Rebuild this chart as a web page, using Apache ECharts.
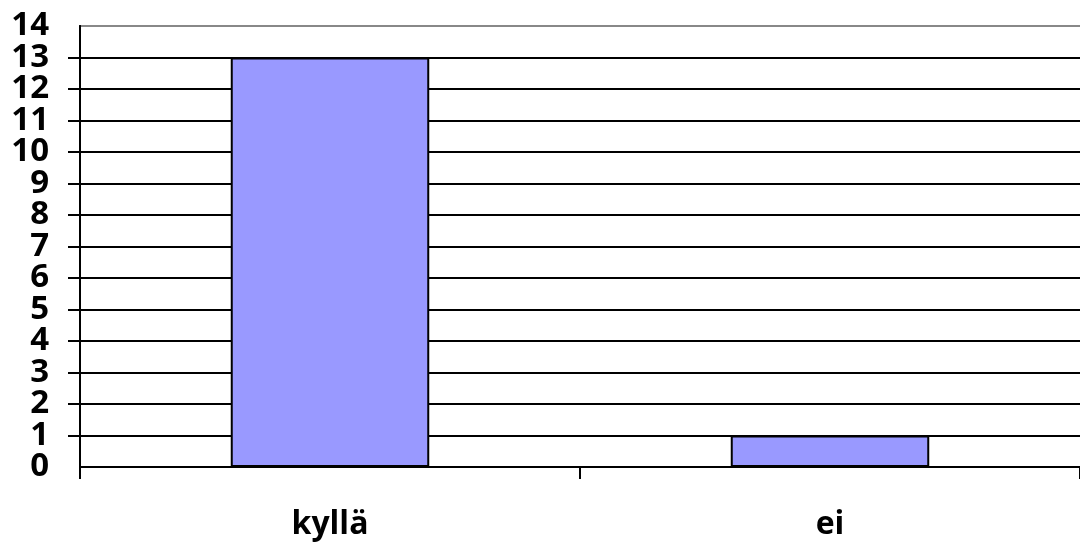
<!DOCTYPE html>
<html><head><meta charset="utf-8">
<script src="https://cdn.jsdelivr.net/npm/echarts@6/dist/echarts.min.js"></script>
<style>html,body{margin:0;padding:0;background:#fff}#c{width:1080px;height:548px}</style>
</head><body><div id="c"></div>
<script>
const categories = ['kyllä', 'ei'];
const values = [13, 1];
const yTicks = [0, 14, 1];

const labelStyle = { color: '#000', fontFamily: 'Open Sans', fontWeight: 'bold', fontSize: 33, margin: 31 };
const gridColors = [];
for (let v = yTicks[0]; v <= yTicks[1]; v += yTicks[2]) gridColors.push(v === yTicks[1] ? '#888' : '#000');

const chart = echarts.init(document.getElementById('c'));
chart.setOption({
  animation: false,
  grid: { left: 80, width: 1008, top: 26, height: 441, containLabel: false },
  xAxis: {
    type: 'category', data: categories,
    axisLine: { lineStyle: { color: '#000', width: 2 } },
    axisTick: { show: true, length: 12, lineStyle: { color: '#000', width: 2 } },
    axisLabel: { margin: 42, color: '#000', fontFamily: 'Open Sans', fontWeight: 'bold', fontSize: 32 }
  },
  yAxis: [{
    type: 'value', position: 'left', min: yTicks[0], max: yTicks[1], interval: yTicks[2] * 2,
    axisLine: { show: true, lineStyle: { color: '#000', width: 2 } },
    axisTick: { show: false },
    axisLabel: Object.assign({}, labelStyle, { showMinLabel: true, showMaxLabel: true }),
    splitLine: { show: false }
  }, {
    type: 'value', position: 'left', offset: 0, min: yTicks[0], max: yTicks[1], interval: yTicks[2],
    axisLine: { show: true, lineStyle: { color: '#000', width: 2 } },
    axisTick: { show: true, length: 12, lineStyle: { color: '#000', width: 2 } },
    axisLabel: Object.assign({}, labelStyle, { showMinLabel: false, showMaxLabel: false,
      formatter: v => (v % 2 === 1 ? String(v) : '') }),
    splitLine: { show: true, lineStyle: { color: gridColors, width: 2 } }
  }],
  series: [{
    type: 'bar', data: values, barWidth: '39.7%', yAxisIndex: 1,
    itemStyle: { color: '#9999FF', borderColor: '#000', borderWidth: 2 }
  }]
});
</script></body></html>
